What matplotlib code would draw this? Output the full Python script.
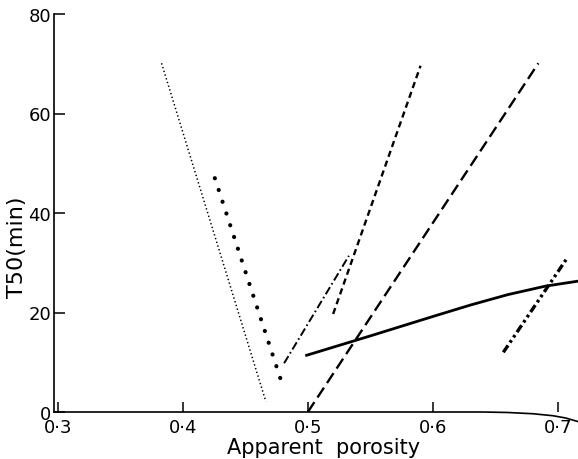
import matplotlib
matplotlib.use("Agg")
import matplotlib.pyplot as plt

plt.rcParams['font.family'] = ['DejaVu Sans']
plt.rcParams['lines.scale_dashes'] = False

# fine dotted line
fine_x = [0.383, 0.4664]
fine_y = [70.1, 2.1]
# heavy dots
dots_x = [0.4256, 0.4808]
dots_y = [47.0, 4.6]
# dash-dot
dd_x = [0.481, 0.5328]
dd_y = [9.8, 31.4]
# short dashes
sd_x = [0.5202, 0.5901]
sd_y = [19.7, 69.6]
# long dashes
ld_x = [0.500, 0.6843]
ld_y = [0.0, 70.1]
# solid curve
sol_x = [0.499, 0.55, 0.60, 0.63, 0.66, 0.69, 0.716]
sol_y = [11.4, 15.3, 19.2, 21.5, 23.6, 25.3, 26.3]
# heavy dash-dot-dot
ddd_x = [0.6563, 0.7064]
ddd_y = [12.0, 30.6]
# axis line drooping at the right end
base_x = [0.297, 0.64, 0.66, 0.68, 0.696, 0.706, 0.717]
base_y = [0.0, 0.0, -0.1, -0.35, -0.75, -1.2, -2.0]

xticks = [0.3, 0.4, 0.5, 0.6, 0.7]
xlabels = ["0·3", "0·4", "0·5", "0·6", "0·7"]
yticks = [0, 20, 40, 60, 80]

fig = plt.figure(figsize=(5.78, 4.6), dpi=100)
ax = fig.add_axes([54/578, 1 - 413/460, 1 - 54/578, (413 - 15)/460])

ax.plot(fine_x, fine_y, color='k', lw=1.1, dashes=(1.0, 1.8))
ax.plot(dots_x, dots_y, color='k', lw=3.0, dashes=(0.1, 8.8), dash_capstyle='round')
ax.plot(dd_x, dd_y, color='k', lw=1.4, dashes=(6, 2.2, 1.2, 2.2))
ax.plot(sd_x, sd_y, color='k', lw=1.7, dashes=(4.5, 3))
ax.plot(ld_x, ld_y, color='k', lw=1.7, dashes=(8.5, 4))
ax.plot(sol_x, sol_y, color='k', lw=2.0)
ax.plot(ddd_x, ddd_y, color='k', lw=2.4, dashes=(6, 2.5, 2, 2.5, 2, 2.5))
ax.plot(base_x, base_y, color='k', lw=1.2, clip_on=False)

ax.set_xlim(0.297, 0.716)
ax.set_ylim(0, 80)
for s in ['top', 'right', 'bottom']:
    ax.spines[s].set_visible(False)
ax.spines['left'].set_linewidth(1.2)

ax.set_xticks(xticks)
ax.set_xticklabels(xlabels)
ax.set_yticks(yticks)
ax.tick_params(axis='x', direction='in', length=7, width=1.1, pad=4.5, labelsize=13)
ax.tick_params(axis='y', direction='in', length=8, width=1.1, pad=2, labelsize=13)

ax.set_xlabel("Apparent  porosity", fontsize=15, va='center')
ax.set_ylabel("T50(min)", fontsize=16, va='center')
ax.xaxis.set_label_coords(0.515, -0.088)
ax.yaxis.set_label_coords(-0.0706, 0.417)

plt.savefig("out.png", dpi=100)
